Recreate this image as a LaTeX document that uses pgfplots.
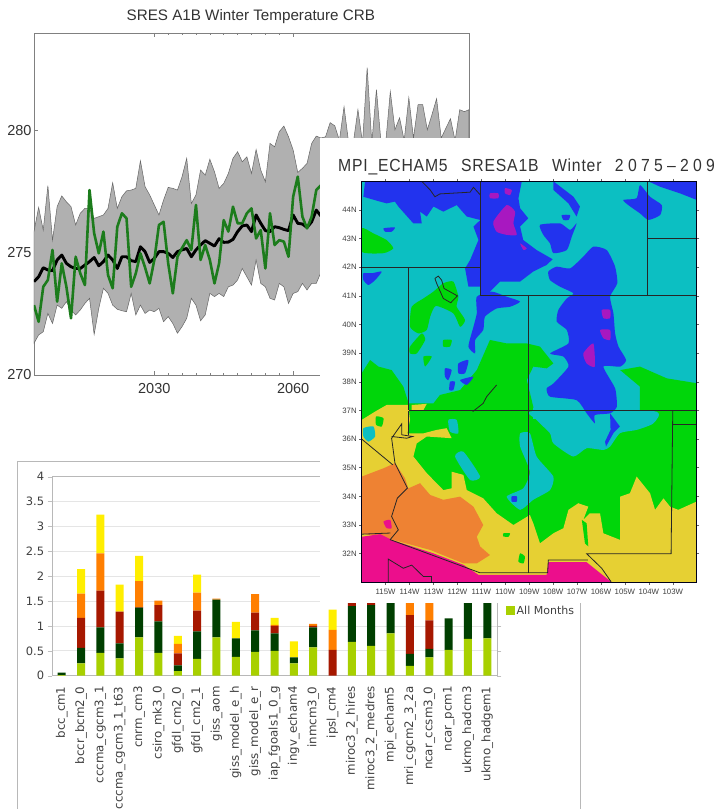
\documentclass[border=0pt]{standalone}
\usepackage{fontspec}
\usepackage{pgfplots}
\usepackage{pgfplotstable}
\pgfplotsset{compat=1.18}
\setmainfont{Liberation Sans}
\newfontfamily\verd{DejaVu Sans}
\newfontfamily\maptitle[LetterSpace=5]{Liberation Sans}
\newfontfamily\maptitlenum[LetterSpace=27]{Liberation Sans}
\definecolor{teal1}{HTML}{0CBFC2}
\definecolor{blue1}{HTML}{2233EE}
\definecolor{purp1}{HTML}{A818C0}
\definecolor{green1}{HTML}{00D60A}
\definecolor{yell1}{HTML}{E6D033}
\definecolor{oran1}{HTML}{EE8233}
\definecolor{pink1}{HTML}{EC0E8C}
\definecolor{gs}{HTML}{B0B0B0}
\definecolor{gl}{HTML}{1C7C1C}
\definecolor{bl}{HTML}{A8D000}
\definecolor{bd}{HTML}{003F00}
\definecolor{br}{HTML}{A61800}
\definecolor{bo}{HTML}{FF7F00}
\definecolor{by}{HTML}{FFEE00}

\pgfplotstableread{
year green black
2004 272.86 273.82
2005 272.18 274.02
2006 273.61 274.39
2007 273.89 274.30
2008 275.12 274.27
2009 273.00 274.71
2010 274.57 274.91
2011 273.61 274.57
2012 272.32 274.43
2013 274.84 274.36
2014 274.16 274.36
2015 273.68 274.50
2016 277.57 274.64
2017 275.80 274.81
2018 274.98 274.47
2019 275.87 274.64
2020 274.09 274.91
2021 273.55 274.71
2022 276.07 274.36
2023 276.62 274.84
2024 276.41 274.84
2025 273.61 274.68
2026 274.16 274.64
2027 274.98 275.25
2028 274.40 275.05
2029 273.75 274.61
2030 274.71 274.77
2031 276.14 275.05
2032 276.27 275.05
2033 274.57 274.98
2034 273.34 274.81
2035 274.84 275.05
2036 275.20 275.12
2037 275.52 275.18
2038 275.12 274.84
2039 276.96 275.12
2040 274.71 275.32
2041 275.32 275.50
2042 274.71 275.39
2043 273.75 275.28
2044 274.57 275.58
2045 276.34 275.43
2046 275.87 275.44
2047 276.89 275.55
2048 276.21 275.87
2049 276.21 276.10
2050 276.62 276.14
2051 276.82 275.87
2052 275.59 276.55
2053 275.93 276.21
2054 274.36 275.91
2055 276.62 275.87
2056 275.32 276.07
2057 275.52 276.03
2058 275.46 275.96
2059 274.84 275.91
2060 277.30 276.55
2061 278.12 276.21
2062 276.48 276.18
2063 276.00 276.04
2064 276.48 276.27
2065 277.57 276.75
2066 277.77 276.51
}\tempdata

\pgfplotstableread{
i light dark red orange yellow
0 .01 .05 0 0 0
1 .25 .31 .60 .49 .49
2 .46 .51 .74 .75 .78
3 .35 .30 .64 0 .54
4 .77 .60 .01 .52 .51
5 .46 .63 .33 .09 0
6 .09 .12 .24 .19 .16
7 .34 .55 .42 .36 .36
8 .77 .76 0 .02 0
9 .38 .37 0 0 .33
10 .48 .43 .36 .37 0
11 .50 .35 .15 .02 .14
12 .25 .12 0 0 .32
13 .57 .40 .03 .04 0
14 0 0 .52 .40 .41
15 .68 .72 .12 0 0
16 .60 .82 .05 0 0
17 .85 .75 0 0 0
18 .20 .24 .78 .45 .40
19 .37 .17 .57 .50 .30
20 .52 .63 0 0 0
21 .74 .86 0 0 0
22 .75 .85 0 0 0
}\bars

\newcommand{\poly}[2]{\addplot[fill=#1,draw=none,forget plot] coordinates {#2} --cycle;}
\newcommand{\blob}[2]{\addplot[fill=#1,draw=none,forget plot,smooth cycle,tension=0.35] coordinates {#2};}
\newcommand{\bline}[1]{\addplot[color=black!85,line width=0.8pt,forget plot] coordinates {#1};}

\begin{document}
\begin{tikzpicture}[x=1pt,y=1pt]
\useasboundingbox (0,0) rectangle (714,809);
\clip (0,0) rectangle (714,809);
\fill[white] (0,0) rectangle (714,809);

% ---------- top panel ----------
\begin{axis}[
  at={(34pt,434pt)},anchor=south west,scale only axis,width=435pt,height=342pt,
  xmin=2004,xmax=2098,ymin=270,ymax=284,
  xtick={2030,2060},ytick={270,275,280},
  minor x tick num=9,
  xticklabel style={/pgf/number format/1000 sep={},font=\fontsize{14.5}{14.5}\selectfont,text=black!80},
  yticklabel style={font=\fontsize{14.5}{14.5}\selectfont,text=black!80},
  /pgf/number format/assume math mode=true,
  tick style={color=black!50,line width=0.5pt},
  tick align=inside,
  major tick length=4pt,minor tick length=2pt,
  axis line style={color=black!50,line width=0.9pt},
  title style={at={(0.4985,1)},yshift=0pt,font=\fontsize{15.2}{15.2}\selectfont,text=black!80},
  title={SRES A1B Winter Temperature CRB},
  xticklabel shift=5pt,yticklabel shift=-1pt,
]
\addplot[fill=gs,draw=black!60,line width=0.5pt] coordinates {
(2004,275.87)(2005,276.86)(2006,275.93)(2007,277.75)(2008,275.52)(2009,276.89)(2010,277.33)(2011,277.09)(2012,276.89)(2013,276.14)(2014,276.62)(2015,276.82)(2016,276.82)(2017,276.41)(2018,276.48)(2019,276.55)(2020,276.82)(2021,277.87)(2022,276.82)(2023,277.30)(2024,277.54)(2025,277.57)(2026,277.64)(2027,278.77)(2028,277.71)(2029,277.37)(2030,276.96)(2031,276.55)(2032,277.16)(2033,277.68)(2034,277.64)(2035,277.57)(2036,278.12)(2037,278.87)(2038,277.02)(2039,277.37)(2040,278.39)(2041,278.18)(2042,278.83)(2043,278.32)(2044,277.64)(2045,277.84)(2046,278.25)(2047,278.87)(2048,279.14)(2049,278.73)(2050,278.93)(2051,278.25)(2052,279.23)(2053,278.39)(2054,277.91)(2055,279.48)(2056,279.34)(2057,279.96)(2058,280.19)(2059,279.75)(2060,279.21)(2061,278.29)(2062,278.46)(2063,278.66)(2064,279.48)(2065,279.78)(2066,279.70)
(2067,279.75)(2068,280.33)(2069,280.20)(2070,279.60)(2071,280.98)(2072,279.50)(2073,279.50)(2074,280.86)(2075,279.50)(2076,282.58)(2077,279.50)(2078,281.68)(2079,279.50)(2080,279.50)(2081,281.60)(2082,280.04)(2083,280.53)(2084,279.60)(2085,281.35)(2086,279.70)(2087,281.07)(2088,281.07)(2089,280.04)(2090,280.66)(2091,281.31)(2092,279.70)(2093,280.10)(2094,280.49)(2095,279.60)(2096,280.86)(2097,280.78)(2098,280.86)
(2098,277.5)(2080,275.5)(2066,274.20)
(2065,273.75)(2064,273.75)(2063,273.48)(2062,273.75)(2061,273.41)(2060,273.34)(2059,272.93)(2058,273.61)(2057,273.75)(2056,273.07)(2055,273.14)(2054,273.61)(2053,273.75)(2052,274.71)(2051,273.68)(2050,274.02)(2049,274.36)(2048,273.89)(2047,273.68)(2046,273.61)(2045,273.21)(2044,273.34)(2043,273.21)(2042,273.34)(2041,272.46)(2040,272.22)(2039,272.86)(2038,273.14)(2037,272.32)(2036,271.98)(2035,271.71)(2034,272.11)(2033,272.39)(2032,272.18)(2031,272.73)(2030,272.59)(2029,272.66)(2028,272.52)(2027,272.86)(2026,272.46)(2025,273.34)(2024,272.59)(2023,272.63)(2022,272.69)(2021,272.86)(2020,273.34)(2019,273.55)(2018,272.73)(2017,271.66)(2016,273.14)(2015,272.93)(2014,272.66)(2013,272.46)(2012,272.66)(2011,273.00)(2010,272.73)(2009,272.86)(2008,272.11)(2007,272.52)(2006,271.77)(2005,271.64)(2004,271.30)
} --cycle;
\addplot[color=black,line width=2.9pt,line join=round] table[x=year,y=black] {\tempdata};
\addplot[color=gl,line width=2.6pt,line join=round] table[x=year,y=green] {\tempdata};
\end{axis}

% ---------- bar panel frame ----------
\draw[color=black!28,line width=1pt] (17.5,-5) -- (17.5,347) -- (580,347) -- (580,-5);

\begin{axis}[
  at={(52pt,133.3pt)},anchor=south west,scale only axis,width=445pt,height=199pt,
  ybar stacked,bar width=8pt,
  xmin=-0.5,xmax=22.5,ymin=0,ymax=4,
  xtick={0,...,22},
  xticklabels={bcc\_cm1,bccr\_bcm2\_0,cccma\_cgcm3\_1,cccma\_cgcm3\_1\_t63,cnrm\_cm3,csiro\_mk3\_0,gfdl\_cm2\_0,gfdl\_cm2\_1,giss\_aom,giss\_model\_e\_h,giss\_model\_e\_r,iap\_fgoals1\_0\_g,ingv\_echam4,inmcm3\_0,ipsl\_cm4,miroc3\_2\_hires,miroc3\_2\_medres,mpi\_echam5,mri\_cgcm2\_3\_2a,ncar\_ccsm3\_0,ncar\_pcm1,ukmo\_hadcm3,ukmo\_hadgem1},
  x tick label style={rotate=90,anchor=east,font=\verd\fontsize{11.8}{12}\selectfont,text=black!75,xshift=-3pt},
  major x tick style={draw=none},
  extra x ticks={-0.5,0.5,...,22.5},
  extra x tick labels={},
  extra x tick style={tick style={color=black!25},major tick length=3pt,tick align=outside},
  ytick={0,0.5,1,1.5,2,2.5,3,3.5,4},
  yticklabels={0,0.5,1,1.5,2,2.5,3,3.5,4},
  y tick label style={font=\verd\fontsize{11.5}{12}\selectfont,text=black!75},
  /pgf/number format/assume math mode=true,
  ymajorgrids,grid style={color=black!10,line width=0.7pt},
  y tick style={color=black!25},
  axis line style={color=black!28,line width=0.8pt},
  tick align=outside,
  axis x line*=bottom,
  clip=false,
  legend style={at={(axis cs:22.5,1.47)},xshift=7.5pt,anchor=north west,draw=none,fill=none,inner sep=1pt,
     font=\verd\fontsize{11}{12}\selectfont,text=black!75,legend cell align=left},
  legend image code/.code={\fill[bl] (0pt,-4pt) rectangle (9pt,5pt);},
]
\addplot[fill=bl,draw=none] table[x=i,y=light] {\bars};
\addlegendentry{All Months}
\addplot[fill=bd,draw=none,forget plot] table[x=i,y=dark] {\bars};
\addplot[fill=br,draw=none,forget plot] table[x=i,y=red] {\bars};
\addplot[fill=bo,draw=none,forget plot] table[x=i,y=orange] {\bars};
\addplot[fill=by,draw=none,forget plot] table[x=i,y=yellow] {\bars};
\draw[color=black!28,line width=0.8pt] (axis cs:22.5,0) -- (axis cs:22.5,4);
\draw[color=black!28,line width=0.8pt] (axis cs:-0.5,0) -- (axis cs:-0.5,4);
\draw[color=black!28,line width=0.8pt] (axis cs:-0.5,4) -- (axis cs:22.5,4);
\end{axis}

% ---------- map panel ----------
\fill[white] (320,206) rectangle (720,671);
\node[anchor=base west,inner sep=0pt,text=black!80] at (338,637.5) {\scalebox{0.9}[1]{\fontsize{17.5}{17.5}\selectfont{\maptitle MPI\_ECHAM5\hspace{15pt}SRESA1B\hspace{15pt}Winter\hspace{15pt}}{\maptitlenum 2075\textendash 2098}}};

\begin{axis}[
  at={(361.7pt,226.7pt)},anchor=south west,scale only axis,width=335pt,height=401pt,
  xmin=-116,xmax=-102,ymin=31,ymax=45,
  xtick={-115,-114,...,-103},
  xticklabels={115W,114W,113W,112W,111W,110W,109W,108W,107W,106W,105W,104W,103W},
  ytick={32,33,...,44},
  yticklabels={32N,33N,34N,35N,36N,37N,38N,39N,40N,41N,42N,43N,44N},
  tick label style={font=\fontsize{7.8}{8}\selectfont,text=black!75},
  /pgf/number format/assume math mode=true,
  tick align=outside,major tick length=2.5pt,
  tick style={color=black!60,line width=0.5pt},
  axis line style={color=black!90!blue,line width=1pt},
  axis on top,
  axis background/.style={fill=teal1},
  xticklabel shift=1pt,yticklabel shift=-1pt,
]
% green
\poly{green1}{(-116,38.30)(-115.65,38.76)(-115.30,38.53)(-114.75,38.41)(-114.26,37.83)(-114.04,37.25)(-113.0,37.25)(-112.73,37.54)(-111.89,37.71)(-111.19,38.41)(-110.64,39.46)(-109.94,39.34)(-109.1,39.34)(-108.55,39.23)(-107.99,38.64)(-108.27,38.47)(-108.83,38.53)(-109.1,38.06)(-108.83,37.13)(-108.83,36.96)(-104.37,36.96)(-104.37,37.83)(-105.2,38.41)(-104.37,38.53)(-103.25,38.12)(-102,37.95)(-102,31)(-116,31)}
\blob{green1}{(-116,43.36)(-115.51,43.18)(-114.96,42.95)(-114.68,42.66)(-115.09,42.49)(-116,42.54)}
\blob{green1}{(-113.91,40.62)(-113.42,40.91)(-113.0,41.15)(-112.59,41.44)(-112.17,41.5)(-111.96,40.97)(-112.03,40.62)(-111.68,40.16)(-111.89,39.92)(-112.17,40.39)(-112.9,40.65)(-113.14,40.27)(-113.28,39.81)(-113.63,39.69)(-113.98,39.92)}
\blob{green1}{(-113.98,39.23)(-113.49,39.69)(-113.35,39.46)(-113.7,38.99)(-113.98,38.99)}
\blob{green1}{(-112.59,39.46)(-112.24,39.46)(-112.31,39.23)(-112.59,39.23)}
\blob{green1}{(-113.42,38.88)(-113.07,38.88)(-113.35,38.53)}
% teal patches on green
\blob{teal1}{(-108.83,36.98)(-103.81,36.98)(-103.81,36.55)(-104.51,36.32)(-105.2,36.21)(-105.62,35.74)(-105.9,35.62)(-106.6,35.68)(-107.16,35.39)(-107.99,35.85)(-108.13,36.2)(-108.69,36.67)}
\poly{teal1}{(-108.83,37.1)(-104.5,37.1)(-104.5,36.7)(-108.83,36.7)}
\blob{teal1}{(-109.38,36.2)(-108.97,36.2)(-108.69,35.39)(-107.99,34.69)(-108.13,34.22)(-108.83,33.88)(-109.38,33.53)(-109.94,33.99)(-109.25,34.28)(-108.97,34.86)(-109.38,35.74)}
\blob{teal1}{(-112.1,35.39)(-111.75,35.56)(-111.05,34.69)(-111.47,34.57)}
\blob{teal1}{(-112.38,36.67)(-112.03,36.67)(-111.96,36.2)(-112.31,36.26)}
% blue
\poly{blue1}{(-115.86,45)(-111.05,45)(-111.05,43.65)(-111.61,43.77)(-112.03,44.17)(-112.59,43.94)(-113,44.12)(-113.28,43.77)(-113.56,43.94)(-113.49,43.53)(-113.84,43.53)(-114.47,44.12)(-114.61,44.29)(-114.96,44.23)(-115.23,44.29)(-115.93,44.46)}
\poly{blue1}{(-111.04,45)(-109.31,45)(-109.45,44.41)(-109.38,44.06)(-109.04,43.71)(-109.38,43.42)(-109.25,42.95)(-108.69,42.6)(-108.02,42.28)(-108.27,42.08)(-108.83,41.85)(-109.38,41.5)(-110.22,41.5)(-110.78,41.03)(-111.04,41.0)}
\poly{blue1}{(-111.04,43.65)(-111.33,43.42)(-111.12,42.95)(-111.47,42.25)(-111.68,41.96)(-111.54,41.32)(-111.04,41.32)}
\poly{blue1}{(-107.99,45)(-107.15,44.46)(-106.88,44.12)(-107.02,43.77)(-107.36,44.23)(-107.99,44.7)}
\blob{blue1}{(-108.55,43.48)(-107.71,43.53)(-107.29,43.3)(-107.02,43.53)(-107.22,43.07)(-107.43,42.6)(-107.99,42.49)(-108.13,42.83)(-108.41,43.13)}
\blob{blue1}{(-105.07,44.35)(-104.51,44.41)(-104.37,44.87)(-103.95,44.46)(-103.46,44.17)(-103.53,43.82)(-104.02,43.65)(-104.37,43.88)(-104.86,44.17)}
\poly{blue1}{(-104.02,45)(-102,45)(-102,44.35)(-102.7,44.58)(-103.53,44.81)}
\blob{blue1}{(-108.2,41.85)(-107.85,42.02)(-107.29,41.96)(-106.74,42.37)(-106.32,42.72)(-105.76,42.6)(-105.41,42.02)(-105.32,41.44)(-105.62,40.97)(-105.48,40.39)(-105.41,39.69)(-105.27,39.23)(-104.95,38.76)(-105.2,38.53)(-105.9,38.53)(-105.41,37.77)(-105.34,37.13)(-105.62,36.9)(-106.26,36.84)(-106.26,36.55)(-106.6,36.9)(-107.02,37.36)(-108.13,37.48)(-108.27,37.77)(-107.99,37.94)(-107.36,38.53)(-107.57,38.88)(-108.13,38.99)(-107.36,39.34)(-107.43,39.81)(-107.85,40.1)(-107.78,40.51)(-107.43,40.91)(-107.15,41.09)(-107.71,41.32)(-108.13,41.55)}
\blob{blue1}{(-111.19,40.97)(-110.57,41.15)(-109.94,40.97)(-109.38,40.8)(-109.8,40.62)(-110.36,40.56)(-110.85,40.27)(-110.92,39.81)(-111.26,39.46)(-111.26,38.99)(-111.54,39.23)(-111.33,39.92)(-111.19,40.39)}
\blob{blue1}{(-115.93,41.79)(-115.58,41.79)(-115.16,41.85)(-115.44,41.55)(-115.72,41.38)(-115.93,41.55)}
\blob{blue1}{(-112.52,38.47)(-112.24,38.41)(-112.38,38.06)(-112.52,38.18)}
\blob{blue1}{(-111.96,38.64)(-111.54,38.76)(-111.68,38.3)(-111.96,38.3)}
\blob{blue1}{(-112.31,38.0)(-112.1,38.0)(-112.17,37.71)(-112.34,37.71)}
\blob{blue1}{(-111.89,38.06)(-111.33,38.18)(-111.61,37.89)}
\blob{blue1}{(-115.09,43.36)(-114.61,43.39)(-114.75,43.24)(-115.02,43.24)}
\blob{blue1}{(-107.64,43.82)(-107.29,43.82)(-107.36,43.65)(-107.57,43.65)}
\poly{blue1}{(-105.62,36.9)(-105.21,36.44)(-105.48,36.21)(-105.79,35.74)(-105.83,35.91)(-105.6,36.32)}
\blob{blue1}{(-109.73,34.0)(-109.52,34.0)(-109.52,33.82)(-109.73,33.82)}
% purple
\blob{purp1}{(-110.64,44.58)(-110.29,44.58)(-110.29,44.41)(-110.64,44.41)}
\blob{purp1}{(-110.01,44.76)(-109.73,44.7)(-109.8,44.52)(-110.01,44.58)}
\blob{purp1}{(-110.5,43.59)(-109.94,44.17)(-109.59,43.94)(-109.66,43.53)(-109.52,43.13)(-109.94,43.13)(-110.36,43.24)}
\blob{purp1}{(-109.38,42.83)(-109.1,42.66)(-109.24,42.6)}
\blob{purp1}{(-106.74,38.99)(-106.32,39.34)(-106.26,38.53)(-106.6,38.64)}
\blob{purp1}{(-105.97,40.51)(-105.62,40.51)(-105.62,40.22)(-105.9,40.22)}
\blob{purp1}{(-106.04,39.81)(-105.62,39.81)(-105.62,39.46)(-105.9,39.52)}
% yellow
\poly{yell1}{(-116,36.67)(-115.44,36.96)(-114.96,37.19)(-114.05,37.19)(-113.98,36.67)(-114.09,36.2)(-113.42,36.2)(-112.87,36.32)(-112.45,36.38)(-112.24,36.03)(-113.28,36.09)(-113.7,35.85)(-113.84,35.39)(-113.28,34.81)(-112.59,34.22)(-112.24,34.28)(-112.24,34.86)(-111.75,34.75)(-111.61,34.22)(-110.92,33.93)(-110.36,33.41)(-109.66,33.0)(-108.97,33.35)(-108.83,33.06)(-108.55,32.36)(-107.99,32.71)(-107.57,32.89)(-107.36,33.53)(-106.95,33.76)(-106.53,33.64)(-106.74,33.18)(-106.46,33.41)(-106.04,33.41)(-105.9,32.71)(-105.2,32.48)(-105.2,33.99)(-104.79,34.11)(-104.51,34.69)(-103.95,34.11)(-103.74,33.53)(-103.39,33.93)(-103.11,33.64)(-102.77,33.53)(-102,33.82)(-102,31)(-116,31)}
\poly{yell1}{(-113.91,37.19)(-113.28,37.23)(-113.42,37.02)(-113.91,37.02)}
\blob{green1}{(-109.38,32.01)(-109.18,31.9)(-109.24,31.66)(-109.45,31.72)}
\poly{green1}{(-106.8,33.18)(-106.6,33.06)(-106.53,32.25)(-106.67,32.36)}
\blob{green1}{(-110.08,32.71)(-109.8,32.71)(-109.87,32.59)(-110.08,32.6)}
\blob{teal1}{(-115.93,36.38)(-115.51,36.44)(-115.44,36.09)(-115.72,35.91)(-115.93,36.09)}
\blob{green1}{(-115.4,36.79)(-115.09,36.73)(-115.16,36.44)(-115.4,36.5)}
% orange
\poly{oran1}{(-116,34.69)(-115.09,34.98)(-114.61,35.16)(-114.19,34.63)(-114.05,34.28)(-113.56,34.46)(-113.14,34.05)(-112.59,33.88)(-111.89,33.99)(-111.33,33.64)(-110.92,33.0)(-111.19,32.59)(-111.05,32.25)(-110.64,31.95)(-111.19,31.66)(-111.75,31.66)(-113.14,32.13)(-114.68,32.48)(-116,32.71)}
% pink
\poly{pink1}{(-116,32.59)(-115.23,32.68)(-114.75,32.48)(-113.0,32.01)(-111.75,31.61)(-111.12,31.26)(-108.27,31.26)(-108.2,31.7)(-106.6,31.7)(-105.55,31.0)(-116,31)}
\blob{pink1}{(-115.09,33.12)(-114.81,33.18)(-114.75,32.89)(-114.96,32.89)}
% borders
\bline{(-116,42)(-111.05,42)}
\bline{(-114.04,42)(-114.04,37)}
\bline{(-114.04,37)(-102,37)}
\bline{(-111.05,45)(-111.05,41)(-102,41)}
\bline{(-109.05,41)(-109.05,31.33)}
\bline{(-104.05,45)(-104.05,41)}
\bline{(-104.05,43)(-102,43)}
\bline{(-103,37)(-103.07,32)(-106.6,32)(-105.97,31.49)(-105.58,31.02)}
\bline{(-103,36.5)(-102,36.5)}
\bline{(-106.55,31.78)(-108.2,31.78)(-108.23,31.33)(-111.05,31.33)(-114.81,32.49)}
\bline{(-116,32.68)(-114.8,32.72)}
\bline{(-114.82,32.48)(-114.47,32.83)(-114.75,33.3)(-114.51,33.94)(-114.09,34.29)(-114.61,35.16)(-114.75,36.03)(-114.33,36.53)(-114.33,36.15)(-113.87,36.09)(-114.12,36.03)(-114.75,36.09)}
\bline{(-114.05,36.15)(-114.05,36.98)}
\bline{(-116,36)(-114.7,35.1)}
\bline{(-112.94,41.61)(-112.8,41.69)(-112.66,41.55)(-112.56,41.26)(-112,41.0)(-112.28,40.76)(-112.59,40.91)(-112.87,41.44)(-112.94,41.61)}
\bline{(-113.49,45)(-113.14,44.7)(-112.94,44.46)(-112.73,44.56)(-111.47,44.62)(-111.33,44.79)(-111.04,44.52)}
\bline{(-110.36,37.89)(-110.78,37.48)(-110.92,37.25)(-111.36,36.96)}
\bline{(-114.89,31)(-114.89,31.81)(-114.26,31.49)(-113.91,31.6)(-113.42,31.2)(-113.08,31.2)(-113.08,31)}
\end{axis}
\end{tikzpicture}
\end{document}
